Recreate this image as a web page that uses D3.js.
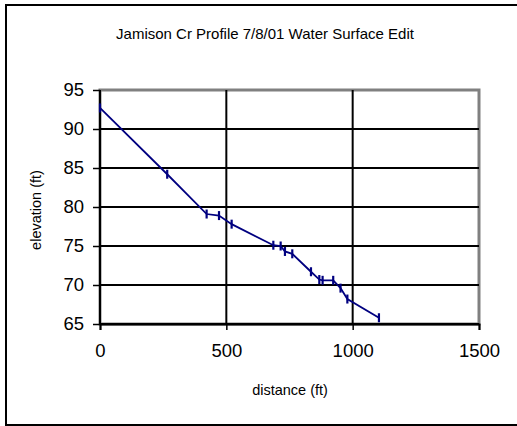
<!DOCTYPE html>
<html>
<head>
<meta charset="utf-8">
<script src="https://cdn.jsdelivr.net/npm/d3@7"></script>
<style>
  html, body { margin: 0; padding: 0; background: #fff; }
  svg { display: block; font-family: "Liberation Sans", Arial, sans-serif; }
</style>
</head>
<body>
<svg id="chart" width="517" height="426"></svg>
<script>
const title = "Jamison Cr Profile 7/8/01 Water Surface Edit";
const xLabel = "distance (ft)";
const yLabel = "elevation (ft)";
const distance = [0, 266, 422, 471, 521, 686, 715, 732, 761, 835, 868, 881, 923, 952, 979, 1104];
const elevation = [92.7, 84.2, 79.1, 78.9, 77.8, 75.1, 75.0, 74.3, 74.0, 71.7, 70.7, 70.6, 70.6, 69.6, 68.2, 65.8];
const xTicks = [0, 500, 1000, 1500];
const yTicks = [65, 70, 75, 80, 85, 90, 95];

const svg = d3.select("#chart");
const pLeft = 100, pRight = 479, pTop = 90, pBottom = 324;

const x = d3.scaleLinear().domain([0, 1500]).range([pLeft, pRight]);
const y = d3.scaleLinear().domain([65, 95]).range([pBottom, pTop]);

// outer frame
svg.append("rect").attr("x", 6).attr("y", 5).attr("width", 520).attr("height", 420)
  .attr("fill", "#fff").attr("stroke", "#000").attr("stroke-width", 2);

// plot area border (gray)
svg.append("rect").attr("x", pLeft).attr("y", pTop).attr("width", pRight - pLeft).attr("height", pBottom - pTop)
  .attr("fill", "none").attr("stroke", "#808080").attr("stroke-width", 3);

// gridlines
svg.append("g").selectAll("line").data(yTicks.filter(d => d !== 95)).join("line")
  .attr("x1", pLeft).attr("x2", pRight)
  .attr("y1", d => y(d)).attr("y2", d => y(d))
  .attr("stroke", "#000").attr("stroke-width", 2);
svg.append("g").selectAll("line").data(xTicks.filter(d => d !== 1500)).join("line")
  .attr("y1", pTop).attr("y2", pBottom)
  .attr("x1", d => x(d)).attr("x2", d => x(d))
  .attr("stroke", "#000").attr("stroke-width", 2);

// axes
const yAxis = d3.axisLeft(y).tickValues(yTicks).tickSize(7).tickPadding(9).tickFormat(d3.format("d"));
const gy = svg.append("g").attr("transform", `translate(${pLeft},0)`).call(yAxis);
gy.select(".domain").remove();
gy.selectAll("line").attr("stroke", "#000").attr("stroke-width", 1.5);
gy.selectAll("text").attr("font-size", 18.5).attr("fill", "#000")
  .attr("font-family", "Liberation Sans, Arial, sans-serif");

const xAxis = d3.axisBottom(x).tickValues(xTicks).tickSize(6).tickPadding(14).tickFormat(d3.format("d"));
const gx = svg.append("g").attr("transform", `translate(0,${pBottom})`).call(xAxis);
gx.select(".domain").attr("stroke", "#000").attr("stroke-width", 2);
gx.selectAll("line").attr("stroke", "#000").attr("stroke-width", 1.5);
gx.selectAll("text").attr("font-size", 18.5).attr("fill", "#000")
  .attr("font-family", "Liberation Sans, Arial, sans-serif");

// series line
const line = d3.line().x((d, i) => x(distance[i])).y(d => y(d));
svg.append("path").datum(elevation).attr("d", line)
  .attr("fill", "none").attr("stroke", "#000080").attr("stroke-width", 1.8);

// dash markers
svg.append("g").selectAll("line").data(elevation).join("line")
  .attr("x1", (d, i) => x(distance[i])).attr("x2", (d, i) => x(distance[i]))
  .attr("y1", d => y(d) - 4.5).attr("y2", d => y(d) + 4.5)
  .attr("stroke", "#000080").attr("stroke-width", 2.2);

// titles
svg.append("text").attr("x", 265).attr("y", 39).attr("text-anchor", "middle")
  .attr("font-size", 15).attr("fill", "#000").text(title);
svg.append("text").attr("x", 290).attr("y", 395).attr("text-anchor", "middle")
  .attr("font-size", 14.5).attr("fill", "#000").text(xLabel);
svg.append("text").attr("transform", "translate(41,210) rotate(-90)").attr("text-anchor", "middle")
  .attr("font-size", 14.5).attr("fill", "#000").text(yLabel);
</script>
</body>
</html>
